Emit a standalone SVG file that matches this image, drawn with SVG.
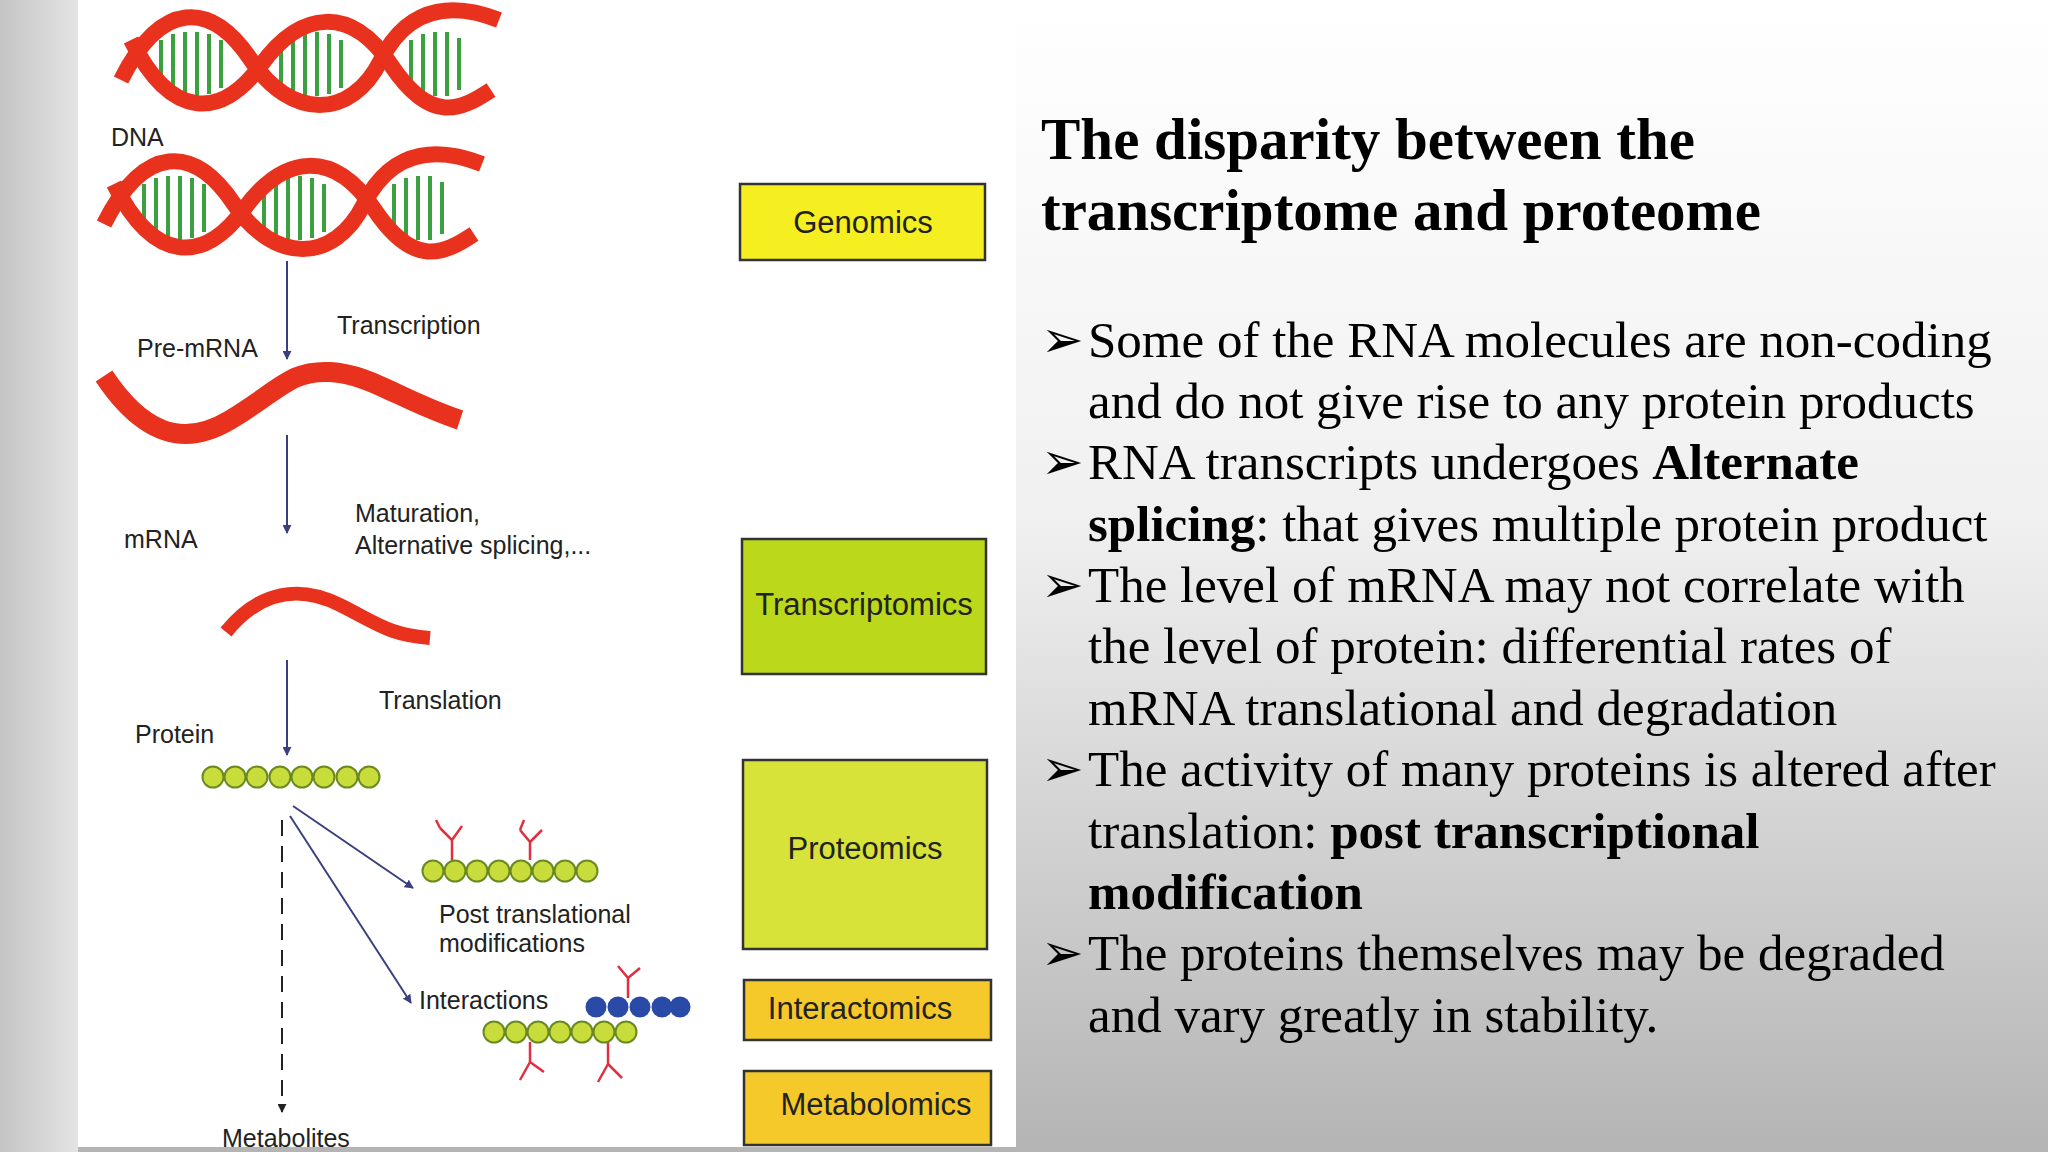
<svg xmlns="http://www.w3.org/2000/svg" width="2048" height="1152" viewBox="0 0 2048 1152">
<defs>
<linearGradient id="bg" x1="0" y1="0" x2="0" y2="1"><stop offset="0" stop-color="#ffffff"/><stop offset="0.45" stop-color="#f0f0f0"/><stop offset="1" stop-color="#b4b4b4"/></linearGradient>
<linearGradient id="lf" x1="0" y1="0" x2="1" y2="0"><stop offset="0" stop-color="#c4c4c4"/><stop offset="1" stop-color="#e4e4e4"/></linearGradient>
<marker id="ah" viewBox="0 0 10 10" refX="9" refY="5" markerWidth="9" markerHeight="9" orient="auto" markerUnits="userSpaceOnUse"><path d="M0,0 L10,5 L0,10 z" fill="#3a3f80"/></marker>
<marker id="ahk" viewBox="0 0 10 10" refX="9" refY="5" markerWidth="9" markerHeight="9" orient="auto" markerUnits="userSpaceOnUse"><path d="M0,0 L10,5 L0,10 z" fill="#222"/></marker>
<g id="bead"><circle r="10.5" fill="#c8dc3c" stroke="#6a8a20" stroke-width="2"/></g>
<g id="bbead"><circle r="10.5" fill="#2a4aa8"/></g>
<g id="helix">
<g stroke="#3aa040" stroke-width="4">
<line x1="40" y1="30" x2="40" y2="78"/><line x1="52" y1="24" x2="52" y2="84"/><line x1="64" y1="22" x2="64" y2="86"/><line x1="76" y1="22" x2="76" y2="86"/><line x1="88" y1="24" x2="88" y2="84"/><line x1="100" y1="30" x2="100" y2="78"/>
<line x1="160" y1="30" x2="160" y2="78"/><line x1="172" y1="24" x2="172" y2="84"/><line x1="184" y1="22" x2="184" y2="86"/><line x1="196" y1="22" x2="196" y2="86"/><line x1="208" y1="24" x2="208" y2="84"/><line x1="220" y1="30" x2="220" y2="78"/>
<line x1="290" y1="30" x2="290" y2="78"/><line x1="302" y1="24" x2="302" y2="84"/><line x1="314" y1="22" x2="314" y2="86"/><line x1="326" y1="22" x2="326" y2="86"/><line x1="338" y1="28" x2="338" y2="80"/>
</g>
<path d="M0,70 C40,-10 90,-10 130,50 S230,110 260,50 S340,-5 378,10" fill="none" stroke="#e8321e" stroke-width="16"/>
<path d="M10,30 C50,110 100,110 140,55 S230,-5 270,55 S340,100 370,80" fill="none" stroke="#e8321e" stroke-width="16"/>
</g>
</defs>
<rect width="2048" height="1152" fill="url(#bg)"/>
<rect width="78" height="1152" fill="url(#lf)"/>
<rect x="78" y="0" width="938" height="1147" fill="#ffffff"/>

<g id="dna1"><use href="#helix" transform="translate(121,10)"/></g>
<g id="dna2"><use href="#helix" transform="translate(104,154)"/></g>
<g id="premrna"><path d="M104,376 C140,430 180,450 230,420 S290,370 330,372 S400,400 460,420" fill="none" stroke="#e8321e" stroke-width="20"/></g>
<g id="mrna"><path d="M226,632 C260,590 300,585 340,605 S390,635 430,638" fill="none" stroke="#e8321e" stroke-width="14"/></g>

<g id="protein">
<use href="#bead" x="213" y="777"/><use href="#bead" x="235" y="777"/><use href="#bead" x="257" y="777"/><use href="#bead" x="280" y="777"/><use href="#bead" x="302" y="777"/><use href="#bead" x="324" y="777"/><use href="#bead" x="347" y="777"/><use href="#bead" x="369" y="777"/>
</g>
<g id="ptm">
<g fill="none" stroke="#e03040" stroke-width="2.5"><path d="M452,860 L452,840 L440,828 M452,840 L462,826 M440,828 L436,820"/><path d="M530,860 L530,842 L520,830 M530,842 L542,830 M520,830 L524,820"/></g>
<use href="#bead" x="433" y="871"/><use href="#bead" x="455" y="871"/><use href="#bead" x="477" y="871"/><use href="#bead" x="499" y="871"/><use href="#bead" x="521" y="871"/><use href="#bead" x="543" y="871"/><use href="#bead" x="565" y="871"/><use href="#bead" x="587" y="871"/>
</g>
<g id="interaction">
<g fill="none" stroke="#e03040" stroke-width="2.5"><path d="M628,998 L628,978 L618,966 M628,978 L640,968"/><path d="M530,1042 L530,1062 L520,1080 M530,1062 L544,1072"/><path d="M608,1042 L608,1064 L598,1082 M608,1064 L622,1078"/></g>
<use href="#bbead" x="596" y="1007"/><use href="#bbead" x="618" y="1007"/><use href="#bbead" x="640" y="1007"/><use href="#bbead" x="662" y="1007"/><use href="#bbead" x="680" y="1007"/>
<use href="#bead" x="494" y="1032"/><use href="#bead" x="516" y="1032"/><use href="#bead" x="538" y="1032"/><use href="#bead" x="560" y="1032"/><use href="#bead" x="582" y="1032"/><use href="#bead" x="604" y="1032"/><use href="#bead" x="626" y="1032"/>
</g>

<g id="connectors" stroke="#3a3f80" stroke-width="2" fill="none">
<line x1="287" y1="261" x2="287" y2="359" marker-end="url(#ah)"/>
<line x1="287" y1="435" x2="287" y2="533" marker-end="url(#ah)"/>
<line x1="287" y1="660" x2="287" y2="755" marker-end="url(#ah)"/>
<line x1="293" y1="806" x2="413" y2="888" marker-end="url(#ah)"/>
<line x1="290" y1="816" x2="411" y2="1003" marker-end="url(#ah)"/>
<line x1="282" y1="820" x2="282" y2="1112" stroke="#222" stroke-dasharray="16,10" marker-end="url(#ahk)"/>
</g>

<g font-family="Liberation Sans, Arial, sans-serif" font-size="25" fill="#222">
<text x="111" y="146">DNA</text>
<text x="337" y="334">Transcription</text>
<text x="137" y="357">Pre-mRNA</text>
<text x="124" y="548">mRNA</text>
<text x="355" y="522">Maturation,</text>
<text x="355" y="554">Alternative splicing,...</text>
<text x="379" y="709">Translation</text>
<text x="135" y="743">Protein</text>
<text x="439" y="923">Post translational</text>
<text x="439" y="952">modifications</text>
<text x="419" y="1009">Interactions</text>
<text x="222" y="1147">Metabolites</text>
</g>

<g font-family="Liberation Sans, Arial, sans-serif" font-size="31" fill="#222" text-anchor="middle" stroke="#333" stroke-width="2.5">
<g id="genomics"><rect x="740" y="184" width="245" height="76" fill="#f5ee20"/><text x="863" y="233" stroke="none">Genomics</text></g>
<g id="transcriptomics"><rect x="742" y="539" width="244" height="135" fill="#bcd81a"/><text x="864" y="615" stroke="none">Transcriptomics</text></g>
<g id="proteomics"><rect x="743" y="760" width="244" height="189" fill="#d8e33a"/><text x="865" y="859" stroke="none">Proteomics</text></g>
<g id="interactomics"><rect x="744" y="980" width="247" height="60" fill="#f5c92a"/><text x="860" y="1019" stroke="none">Interactomics</text></g>
<g id="metabolomics"><rect x="744" y="1071" width="247" height="74" fill="#f5c92a"/><text x="876" y="1115" stroke="none">Metabolomics</text></g>
</g>

<g font-family="Liberation Serif, Times New Roman, serif" fill="#000">
<text x="1041" y="159" font-size="59" font-weight="bold">The disparity between the</text>
<text x="1041" y="230" font-size="59" font-weight="bold">transcriptome and proteome</text>
<g font-size="51">
<text x="1041" y="357">➢</text><text x="1088" y="357">Some of the RNA molecules are non-coding</text>
<text x="1088" y="418">and do not give rise to any protein products</text>
<text x="1041" y="479">➢</text><text x="1088" y="479">RNA transcripts undergoes <tspan font-weight="bold">Alternate</tspan></text>
<text x="1088" y="541"><tspan font-weight="bold">splicing</tspan>: that gives multiple protein product</text>
<text x="1041" y="602">➢</text><text x="1088" y="602">The level of mRNA may not correlate with</text>
<text x="1088" y="663">the level of protein: differential rates of</text>
<text x="1088" y="725">mRNA translational and degradation</text>
<text x="1041" y="786">➢</text><text x="1088" y="786">The activity of many proteins is altered after</text>
<text x="1088" y="848">translation: <tspan font-weight="bold">post transcriptional</tspan></text>
<text x="1088" y="909" font-weight="bold">modification</text>
<text x="1041" y="970">➢</text><text x="1088" y="970">The proteins themselves may be degraded</text>
<text x="1088" y="1032">and vary greatly in stability.</text>
</g>
</g>
</svg>
